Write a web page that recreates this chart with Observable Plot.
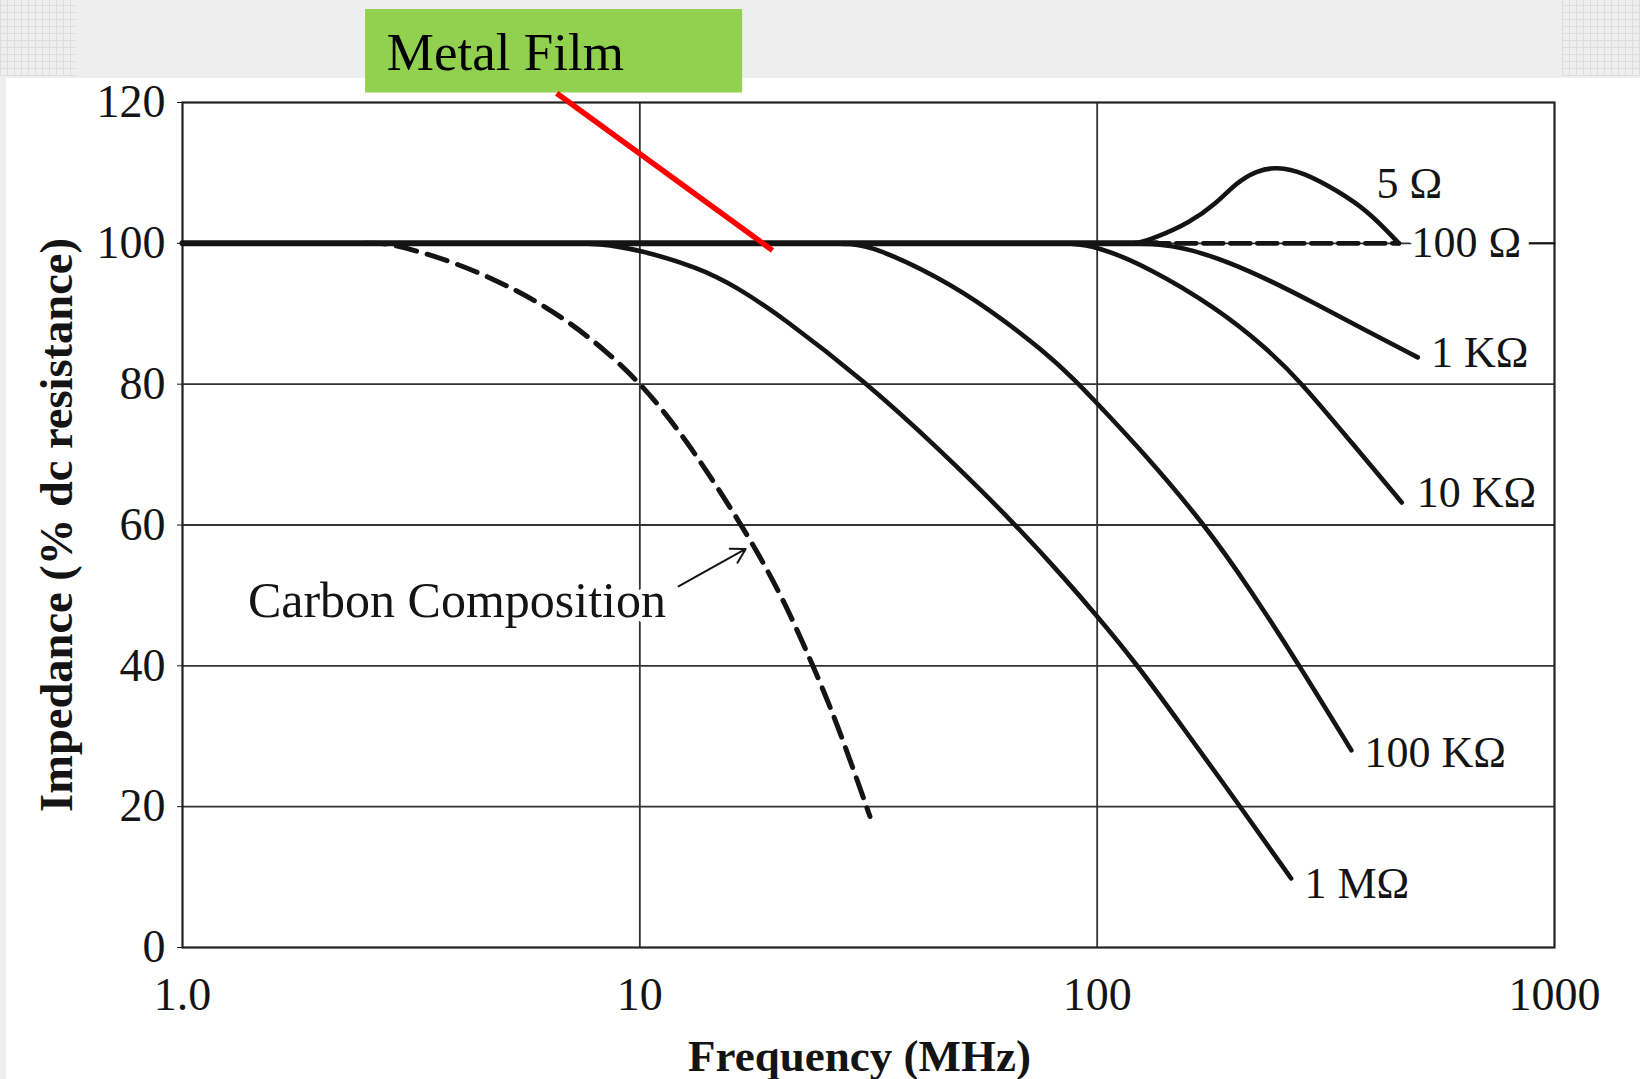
<!DOCTYPE html>
<html>
<head>
<meta charset="utf-8">
<script src="https://cdn.jsdelivr.net/npm/d3@7"></script>
<script src="https://cdn.jsdelivr.net/npm/@observablehq/plot@0.6"></script>
<style>
html, body { margin: 0; padding: 0; }
body { width: 1640px; height: 1079px; overflow: hidden; position: relative; background: #ffffff; }
#band { position: absolute; left: 0; top: 0; width: 1640px; height: 78px; background: #eeeeee; }
#lstrip { position: absolute; left: 0; top: 0; width: 6px; height: 1079px; background: #eeeeee; }
.pat { position: absolute; top: 0; height: 76px;
  background-image: repeating-linear-gradient(0deg, #dddddd 0 1px, transparent 1px 7px),
                    repeating-linear-gradient(90deg, #dddddd 0 1px, transparent 1px 7px); }
#chart { position: absolute; left: 0; top: 0; }
</style>
</head>
<body>
<div id="band"></div>
<div id="lstrip"></div>
<div class="pat" style="left:0;width:76px"></div>
<div class="pat" style="left:1562px;width:78px"></div>
<div id="chart"></div>
<script>
// ---- axes ----
const xTickValues = [1, 10, 100, 1000];
const xTickLabels = ["1.0", "10", "100", "1000"];
const yTickValues = [0, 20, 40, 60, 80, 100, 120];
const xGridValues = [10, 100];
const yGridValues = [20, 40, 60, 80, 100];

// ---- series (frequency MHz, impedance % of dc resistance) ----
const metalFilmFreq = [1, 135];
const metalFilmImp  = [100, 100];

const carbonFreq = [2.5, 2.77, 2.99, 3.86, 4.88, 5.98, 7.11, 8.41, 9.95, 11.37, 13.0, 14.79, 16.9, 20.3, 23.55, 26.79, 31.86];
const carbonImp  = [100, 100, 99.6, 97.5, 94.7, 91.7, 88.5, 84.8, 80.3, 75.9, 70.8, 65.3, 59.4, 50.4, 41.0, 32.5, 18.6];

const r1MFreq = [7, 8.12, 9.95, 13.4, 16.3, 20.6, 30.9, 44.8, 66.3, 84.9, 99, 121.2, 153, 204, 265.6];
const r1MImp  = [100, 100, 99.1, 96.6, 93.8, 89.4, 80.5, 71.0, 60.1, 52.4, 47.4, 40.5, 31.5, 20.3, 9.8];

const r100KFreq = [25, 28.9, 32.7, 44.8, 58.6, 76.1, 90.1, 100.5, 125, 172.7, 214.7, 276.6, 359.7];
const r100KImp  = [100, 100, 99.4, 95.3, 90.5, 84.8, 80.4, 77.1, 70.6, 59.9, 51.1, 40.1, 28.0];

const r10KFreq = [80, 86.6, 100, 129.4, 181.7, 233.9, 278, 357.9, 463.5];
const r10KImp  = [100, 100, 99.6, 96.6, 90.9, 85.2, 80.4, 71.9, 63.2];

const r1KFreq = [115, 129.4, 158.5, 215.8, 302.9, 390.1, 502.3];
const r1KImp  = [100, 100, 99.4, 96.2, 91.3, 87.5, 83.8];

const r5Freq = [115, 123, 134.1, 158.9, 181.9, 201.4, 222.9, 246.6, 282.5, 334.5, 389.5, 457];
const r5Imp  = [100, 100, 100.8, 102.9, 105.6, 108.6, 110.3, 110.9, 110.1, 107.5, 104.7, 100];

const r100Freq = [130, 457];
const r100Imp  = [100, 100];

const rightTickFreq = [877, 1000];
const rightTickImp  = [100, 100];

// ---- labels ----
const seriesLabelText = ["5 Ω", "1 KΩ", "10 KΩ", "100 KΩ", "1 MΩ"];
const seriesLabelFreq = [408, 537, 500, 384, 284];
const seriesLabelImp  = [106.5, 82.5, 62.5, 25.6, 7.1];
const r100Label = {text: "100 Ω", freq: 487, imp: 98.0};

const carbonLabel = {text: "Carbon Composition", freq: 1.39, imp: 46.9};
const carbonArrow = {f1: 12.15, v1: 51.3, f2: 17.04, v2: 56.6};

const calloutBox  = {f1: 2.514, f2: 16.78, v1: 121.35, v2: 133.2};
const calloutText = {text: "Metal Film", freq: 2.798, imp: 124.6};
const calloutLine = {f1: 6.58, v1: 121.3, f2: 19.5, v2: 99.0};

// ---- build tables ----
const rows = (name, fs, vs) => fs.map((f, i) => ({series: name, freq: f, imp: vs[i]}));
const solidRows = [
  ...rows("1 MΩ", r1MFreq, r1MImp),
  ...rows("100 KΩ", r100KFreq, r100KImp),
  ...rows("10 KΩ", r10KFreq, r10KImp),
  ...rows("1 KΩ", r1KFreq, r1KImp),
  ...rows("5 Ω", r5Freq, r5Imp)
];
const mainRows = rows("Metal Film", metalFilmFreq, metalFilmImp);
const carbonRows = rows("Carbon Composition", carbonFreq, carbonImp);
const r100Rows = rows("100 Ω", r100Freq, r100Imp);
const tickRows = rows("tick", rightTickFreq, rightTickImp);
const labelRows = seriesLabelText.map((t, i) => ({text: t, freq: seriesLabelFreq[i], imp: seriesLabelImp[i]}));

const ink = "#141414";
const serif = "'Liberation Serif', 'Times New Roman', serif";

const chart = Plot.plot({
  width: 1640,
  height: 1079,
  marginLeft: 182,
  marginRight: 86,
  marginTop: 102,
  marginBottom: 132,
  style: {background: "transparent", fontFamily: serif, fontSize: "46px", color: ink, overflow: "visible"},
  x: {
    type: "log",
    domain: [1, 1000],
    ticks: xTickValues,
    tickFormat: d => xTickLabels[xTickValues.indexOf(d)],
    tickSize: 0,
    tickPadding: 30,
    label: null
  },
  y: {
    domain: [0, 120],
    ticks: yTickValues,
    tickSize: 5,
    tickPadding: 12,
    label: null
  },
  marks: [
    Plot.ruleX(xGridValues, {stroke: "#333", strokeWidth: 1.8}),
    Plot.ruleY(yGridValues, {stroke: "#333", strokeWidth: 1.8}),
    Plot.frame({stroke: "#222", strokeWidth: 2.2}),
    Plot.line(tickRows, {x: "freq", y: "imp", stroke: ink, strokeWidth: 2}),
    Plot.text(labelRows, {x: "freq", y: "imp", text: "text", textAnchor: "start", lineAnchor: "bottom",
      fontSize: 44, fill: ink, stroke: "white", strokeWidth: 12}),
    Plot.text([r100Label], {x: "freq", y: "imp", text: "text", textAnchor: "start", lineAnchor: "bottom",
      fontSize: 44, fill: ink, stroke: "white", strokeWidth: 20}),
    Plot.line(solidRows, {x: "freq", y: "imp", z: "series", stroke: ink, strokeWidth: 4.6, curve: "basis", strokeLinecap: "round"}),
    Plot.line(mainRows, {x: "freq", y: "imp", stroke: ink, strokeWidth: 6}),
    Plot.line(carbonRows, {x: "freq", y: "imp", stroke: ink, strokeWidth: 5, strokeDasharray: "21 11", curve: "basis"}),
    Plot.line(r100Rows, {x: "freq", y: "imp", stroke: ink, strokeWidth: 4.6, strokeDasharray: "20 7"}),
    Plot.text([carbonLabel], {x: "freq", y: "imp", text: "text", textAnchor: "start", lineAnchor: "bottom",
      fontSize: 50, fill: ink, stroke: "white", strokeWidth: 10}),
    Plot.arrow([carbonArrow], {x1: "f1", y1: "v1", x2: "f2", y2: "v2", stroke: ink, strokeWidth: 2, headLength: 12}),
    Plot.rect([calloutBox], {x1: "f1", x2: "f2", y1: "v1", y2: "v2", fill: "#92d050"}),
    Plot.text([calloutText], {x: "freq", y: "imp", text: "text", textAnchor: "start", lineAnchor: "bottom",
      fontSize: 53, fill: "#000"}),
    Plot.link([calloutLine], {x1: "f1", y1: "v1", x2: "f2", y2: "v2", stroke: "#ff0000", strokeWidth: 5.5}),
    Plot.text(["Impedance (% dc resistance)"], {frameAnchor: "left", rotate: -90, dx: -111, lineAnchor: "bottom",
      textAnchor: "middle", fontWeight: "bold", fontSize: 46.5, fill: ink}),
    Plot.text(["Frequency (MHz)"], {frameAnchor: "bottom", dx: -9, dy: 123, lineAnchor: "bottom",
      textAnchor: "middle", fontWeight: "bold", fontSize: 45, fill: ink})
  ]
});
document.getElementById("chart").appendChild(chart);
</script>
</body>
</html>
